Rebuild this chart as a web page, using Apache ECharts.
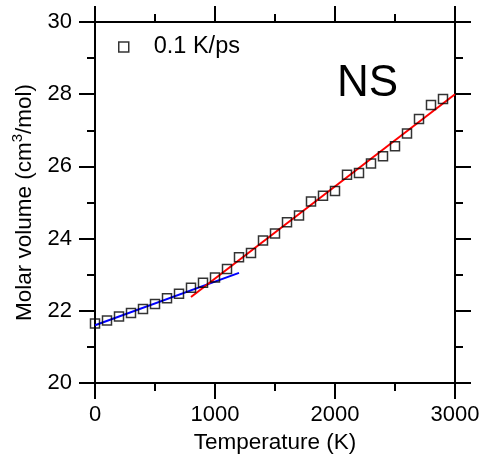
<!DOCTYPE html>
<html>
<head>
<meta charset="utf-8">
<script src="https://cdn.jsdelivr.net/npm/echarts@6/dist/echarts.min.js"></script>
<style>
html,body{margin:0;padding:0;background:#fff;}
#c{width:484px;height:459px;}
</style>
</head>
<body>
<div id="c"></div>
<script>
const temperatures = [0,100,200,300,400,500,600,700,800,900,1000,1100,1200,1300,1400,1500,1600,1700,1800,1900,2000,2100,2200,2300,2400,2500,2600,2700,2800,2900];
const molarVolumes = [21.65,21.73,21.84,21.94,22.05,22.19,22.35,22.47,22.64,22.78,22.92,23.16,23.48,23.60,23.95,24.14,24.45,24.64,25.03,25.19,25.32,25.77,25.82,26.08,26.28,26.56,26.91,27.31,27.70,27.87];
const lowFitT = [0,1200];
const lowFitV = [21.6,23.05];
const highFitT = [800,3000];
const highFitV = [22.38,28.0];
const seriesName = '0.1 K/ps';
const panelLabel = 'NS';

const FONT = 'Liberation Sans, Arial, sans-serif';
const chart = echarts.init(document.getElementById('c'));
const tick = {show:true, length:16, lineStyle:{color:'#000', width:2}};
const minor = {show:true, splitNumber:2, length:8, lineStyle:{color:'#000', width:2}};
const line = {show:true, onZero:false, lineStyle:{color:'#000', width:2}};
const fmt = v => String(v);
const xBase = {type:'value', min:0, max:3000, interval:1000, axisTick:tick, minorTick:minor, axisLine:line, splitLine:{show:false}, minorSplitLine:{show:false}};
const yBase = {type:'value', min:20, max:30, interval:2, axisTick:tick, minorTick:minor, axisLine:line, splitLine:{show:false}, minorSplitLine:{show:false}};

chart.setOption({
  animation:false,
  backgroundColor:'#fff',
  title:{text:panelLabel, left:332, top:57, textStyle:{fontFamily:FONT, fontSize:44, fontWeight:'normal', color:'#000'}},
  legend:{
    left:113, top:30, itemWidth:10, itemHeight:10,
    data:[{name:seriesName, icon:'rect'}],
    itemStyle:{color:'#fff', borderColor:'#000', borderWidth:1.5},
    textStyle:{fontFamily:FONT, fontSize:23.5, color:'#000', padding:[0,0,0,20]}
  },
  grid:{left:95, right:29, top:22, bottom:76},
  xAxis:[
    Object.assign({}, xBase, {position:'bottom', name:'Temperature (K)', nameLocation:'middle', nameGap:44,
      nameTextStyle:{fontFamily:FONT, fontSize:22.5, color:'#000'},
      axisLabel:{fontFamily:FONT, fontSize:22, color:'#000', margin:21, formatter:fmt}}),
    Object.assign({}, xBase, {position:'top', axisLabel:{show:false}})
  ],
  yAxis:[
    Object.assign({}, yBase, {position:'left',
      name:'{a|Molar volume (cm}{s|3}{a|/mol)}', nameLocation:'middle', nameGap:55, nameRotate:90,
      nameTextStyle:{rich:{a:{fontFamily:FONT, fontSize:22.5, color:'#000', lineHeight:26, verticalAlign:'bottom'}, s:{fontFamily:FONT, fontSize:15, color:'#000', lineHeight:26, verticalAlign:'top'}}},
      axisLabel:{fontFamily:FONT, fontSize:22, color:'#000', margin:23, formatter:fmt}}),
    Object.assign({}, yBase, {position:'right', axisLabel:{show:false}})
  ],
  series:[
    {name:seriesName, type:'scatter', xAxisIndex:0, yAxisIndex:0, symbol:'rect', symbolSize:9,
      itemStyle:{color:'rgba(255,255,255,0)', borderColor:'#000', borderWidth:1.5},
      data:temperatures.map((t,i)=>[t, molarVolumes[i]]), z:3},
    {name:'fit-low', type:'line', showSymbol:false, symbol:'none', lineStyle:{color:'#0000ff', width:2},
      data:lowFitT.map((t,i)=>[t, lowFitV[i]]), z:2},
    {name:'fit-high', type:'line', showSymbol:false, symbol:'none', lineStyle:{color:'#ff0000', width:2},
      data:highFitT.map((t,i)=>[t, highFitV[i]]), z:2}
  ]
});
</script>
</body>
</html>
